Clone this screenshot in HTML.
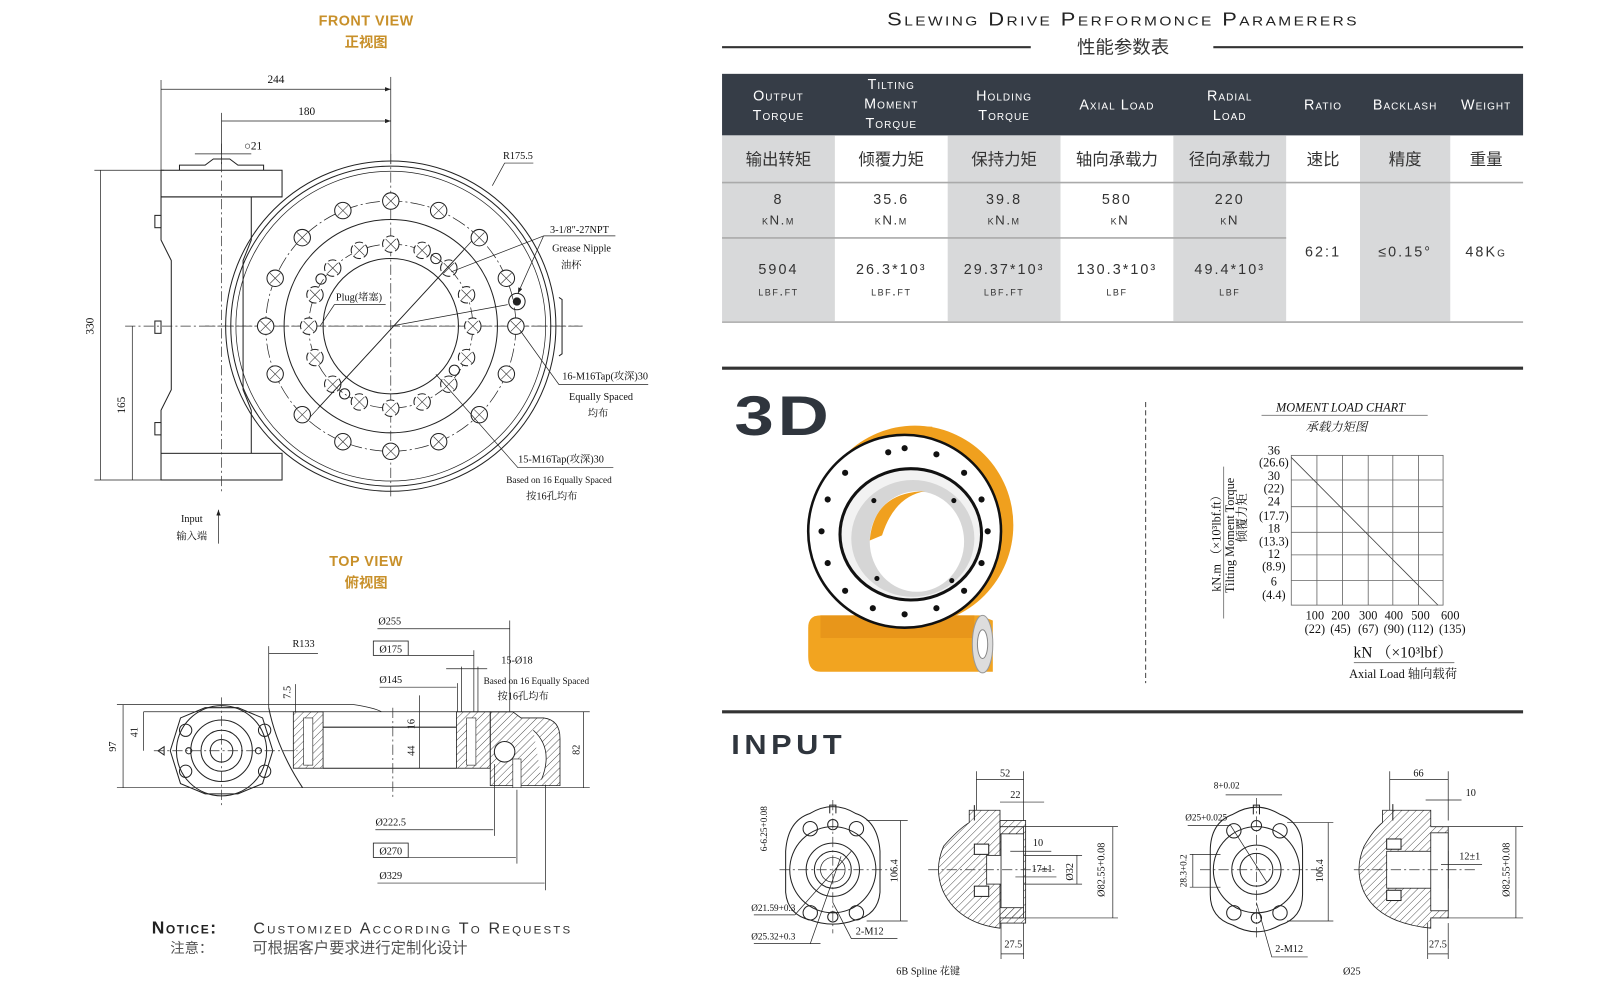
<!DOCTYPE html>
<html><head><meta charset="utf-8">
<style>
html,body{margin:0;padding:0;background:#fff;}
svg{display:block;}
.s{font-family:"Liberation Serif","Noto Serif CJK SC",serif;fill:#111;}
.a{font-family:"Liberation Sans","Noto Sans CJK SC",sans-serif;}
.ln{stroke:#222;stroke-width:1;fill:none;}
.th{stroke:#222;stroke-width:.7;fill:none;}
.cl{stroke:#333;stroke-width:.7;fill:none;stroke-dasharray:10 3 2 3;}
</style></head><body>
<svg width="1600" height="1000" viewBox="0 0 1560 975" preserveAspectRatio="none" xmlns="http://www.w3.org/2000/svg">
<defs>
<pattern id="h" width="5" height="5" patternUnits="userSpaceOnUse" patternTransform="rotate(45)"><line x1="0" y1="0" x2="0" y2="5" stroke="#333" stroke-width="0.8"/></pattern>
<g id="hole"><circle r="8" fill="#fff" stroke="#222" stroke-width="1"/><line x1="-5" y1="-5" x2="5" y2="5" stroke="#333" stroke-width=".6"/><line x1="-5" y1="5" x2="5" y2="-5" stroke="#333" stroke-width=".6"/></g>
<g id="hole2"><circle r="8" fill="#fff" stroke="#222" stroke-width="1" stroke-dasharray="8 3"/><line x1="-5" y1="-5" x2="5" y2="5" stroke="#333" stroke-width=".6"/><line x1="-5" y1="5" x2="5" y2="-5" stroke="#333" stroke-width=".6"/></g>
<marker id="ar" markerWidth="8" markerHeight="6" refX="8" refY="3" orient="auto"><path d="M0,0 L8,3 L0,6 z" fill="#222"/></marker>
</defs>

<!-- ===== FRONT VIEW ===== -->
<text x="357" y="25" text-anchor="middle" class="a" font-size="14" fill="#c8902a" font-weight="bold" letter-spacing="0.5">FRONT VIEW</text>
<text x="357" y="46" text-anchor="middle" class="a" font-size="14" fill="#c8902a" font-weight="bold">正视图</text>

<line class="th" x1="157" y1="78" x2="157" y2="166"/>
<line class="th" x1="381" y1="75" x2="381" y2="160"/>
<line class="th" x1="157" y1="87" x2="381" y2="87" marker-end="url(#ar)"/>
<text x="269" y="81" class="s" font-size="11" text-anchor="middle">244</text>
<line class="th" x1="216" y1="110" x2="216" y2="160"/>
<line class="th" x1="216" y1="118" x2="381" y2="118" marker-end="url(#ar)"/>
<text x="299" y="112" class="s" font-size="11" text-anchor="middle">180</text>
<text x="238" y="146" class="s" font-size="11">○21</text>
<line class="th" x1="190" y1="150" x2="245" y2="150"/>
<line class="th" x1="92" y1="166" x2="160" y2="166"/>
<line class="th" x1="92" y1="468" x2="160" y2="468"/>
<line class="th" x1="98" y1="166" x2="98" y2="468"/>
<text transform="translate(91,318) rotate(-90)" class="s" font-size="11" text-anchor="middle">330</text>
<line class="th" x1="129" y1="318" x2="129" y2="468"/>
<text transform="translate(122,395) rotate(-90)" class="s" font-size="11" text-anchor="middle">165</text>

<path class="ln" d="M175,166 L175,161 L200,161 L208,155 L224,155 L232,161 L257,161 L257,166"/>
<rect class="ln" x="157" y="166" width="118" height="26"/>
<path class="ln" d="M157,192 L157,234 L167,254 L167,380 L157,400 L157,442 M157,192 L275,192 M245,192 L245,234 L237,254 L237,380 L245,400 L245,442"/>
<rect class="ln" x="157" y="442" width="118" height="26"/>
<rect class="ln" x="151" y="210" width="6" height="12"/><rect class="ln" x="151" y="313" width="6" height="12"/><rect class="ln" x="151" y="412" width="6" height="12"/>
<line class="cl" x1="216" y1="140" x2="216" y2="480"/>
<line class="cl" x1="122" y1="318" x2="568" y2="318"/>

<path class="ln" fill="#fff" d="M545,290 L548,292 L548,345 L545,347"/>
<circle cx="381" cy="318" r="161" class="ln" fill="#fff"/>
<circle cx="381" cy="318" r="156" class="ln"/>
<circle cx="381" cy="318" r="151" class="th"/>
<circle cx="381" cy="318" r="122" class="th" stroke-dasharray="14 3 2 3"/>
<circle cx="381" cy="318" r="104" class="ln"/>
<circle cx="381" cy="318" r="80" class="th" stroke-dasharray="14 3 2 3"/>
<circle cx="381" cy="318" r="66" class="ln"/>
<line class="cl" x1="381" y1="150" x2="381" y2="485"/>
<line class="cl" x1="200" y1="318" x2="568" y2="318"/>
<g>
<use href="#hole" x="381" y="196"/><use href="#hole" x="427.7" y="205.3"/><use href="#hole" x="467.3" y="231.7"/><use href="#hole" x="493.7" y="271.3"/><use href="#hole" x="503" y="318"/><use href="#hole" x="493.7" y="364.7"/><use href="#hole" x="467.3" y="404.3"/><use href="#hole" x="427.7" y="430.7"/><use href="#hole" x="381" y="440"/><use href="#hole" x="334.3" y="430.7"/><use href="#hole" x="294.7" y="404.3"/><use href="#hole" x="268.3" y="364.7"/><use href="#hole" x="259" y="318"/><use href="#hole" x="268.3" y="271.3"/><use href="#hole" x="294.7" y="231.7"/><use href="#hole" x="334.3" y="205.3"/>
<use href="#hole2" x="381" y="238"/><use href="#hole2" x="411.6" y="244.1"/><use href="#hole2" x="437.6" y="261.4"/><use href="#hole2" x="454.9" y="287.4"/><use href="#hole2" x="461" y="318"/><use href="#hole2" x="454.9" y="348.6"/><use href="#hole2" x="437.6" y="374.6"/><use href="#hole2" x="411.6" y="391.9"/><use href="#hole2" x="381" y="398"/><use href="#hole2" x="350.4" y="391.9"/><use href="#hole2" x="324.4" y="374.6"/><use href="#hole2" x="307.1" y="348.6"/><use href="#hole2" x="301" y="318"/><use href="#hole2" x="307.1" y="287.4"/><use href="#hole2" x="324.4" y="261.4"/><use href="#hole2" x="350.4" y="244.1"/>
</g>
<circle cx="425" cy="252" r="5" class="ln" fill="#fff"/><circle cx="313" cy="272" r="5" class="ln" fill="#fff"/><circle cx="443" cy="361" r="5" class="ln" fill="#fff"/><circle cx="336" cy="384" r="5" class="ln" fill="#fff"/>
<circle cx="504" cy="294" r="8" class="ln" fill="#fff"/><circle cx="504" cy="294" r="4" fill="#222"/>
<line class="th" x1="310" y1="398" x2="460" y2="235"/>
<line class="th" x1="302" y1="407" x2="452" y2="244"/>
<line class="th" x1="381" y1="318" x2="495" y2="297"/>
<polyline class="th" points="480,181 492,159 520,159"/>
<text x="505" y="155" class="s" font-size="10" text-anchor="middle">R175.5</text>
<text x="565" y="227" class="s" font-size="10" text-anchor="middle">3-1/8"-27NPT</text>
<line class="th" x1="530" y1="230" x2="600" y2="230"/>
<line class="th" x1="530" y1="230" x2="505" y2="286" marker-end="url(#ar)"/>
<line class="th" x1="530" y1="230" x2="440" y2="265"/>
<text x="567" y="245" class="s" font-size="10" text-anchor="middle">Grease Nipple</text>
<text x="557" y="262" class="s" font-size="10" text-anchor="middle">油杯</text>
<text x="350" y="293" class="s" font-size="10" text-anchor="middle">Plug(堵塞)</text>
<polyline class="th" points="376,297 326,297 312,318"/>
<text x="590" y="370" class="s" font-size="10" text-anchor="middle">16-M16Tap(攻深)30</text>
<line class="th" x1="545" y1="375" x2="632" y2="375"/>
<line class="th" x1="545" y1="375" x2="507" y2="322"/>
<text x="586" y="390" class="s" font-size="10" text-anchor="middle">Equally Spaced</text>
<text x="583" y="406" class="s" font-size="10" text-anchor="middle">均布</text>
<text x="547" y="451" class="s" font-size="10" text-anchor="middle">15-M16Tap(攻深)30</text>
<polyline class="th" points="598,456 505,456 425,365"/>
<text x="545" y="471" class="s" font-size="9" text-anchor="middle">Based on 16 Equally Spaced</text>
<text x="538" y="487" class="s" font-size="10" text-anchor="middle">按16孔均布</text>
<text x="187" y="509" class="s" font-size="10" text-anchor="middle">Input</text>
<text x="187" y="526" class="s" font-size="10" text-anchor="middle">输入端</text>
<line class="th" x1="213" y1="530" x2="213" y2="497" marker-end="url(#ar)"/>

<!-- ===== TOP VIEW ===== -->
<text x="357" y="552" text-anchor="middle" class="a" font-size="14" fill="#c8902a" font-weight="bold" letter-spacing="0.5">TOP VIEW</text>
<text x="357" y="573" text-anchor="middle" class="a" font-size="14" fill="#c8902a" font-weight="bold">俯视图</text>

<line class="th" x1="114" y1="687" x2="260" y2="687"/>
<path class="th" d="M260,687 L345,687 Q365,690 372,694"/>
<line class="th" x1="140" y1="694" x2="575" y2="694"/>
<line class="th" x1="114" y1="768" x2="575" y2="768"/>
<line class="th" x1="120" y1="687" x2="120" y2="768"/>
<text transform="translate(113,728) rotate(-90)" class="s" font-size="10" text-anchor="middle">97</text>
<line class="th" x1="140" y1="694" x2="140" y2="732"/>
<text transform="translate(134,714) rotate(-90)" class="s" font-size="10" text-anchor="middle">41</text>
<line class="th" x1="569" y1="694" x2="569" y2="768"/>
<text transform="translate(565,731) rotate(-90)" class="s" font-size="10" text-anchor="middle">82</text>
<path class="ln" fill="#fff" d="M176,700 L200,690 L232,690 L256,700 L266,732 L256,764 L232,774 L200,774 L176,764 L166,732 Z"/>
<circle cx="216" cy="732" r="44" class="ln" fill="#fff"/>
<circle cx="216" cy="732" r="30" class="ln"/>
<circle cx="216" cy="732" r="20" class="ln"/>
<circle cx="216" cy="732" r="11" class="ln"/>
<circle cx="181" cy="712" r="6" class="ln"/><circle cx="181" cy="752" r="6" class="ln"/><circle cx="258" cy="712" r="6" class="ln"/><circle cx="258" cy="752" r="6" class="ln"/>
<circle cx="184" cy="732" r="3" class="ln"/><circle cx="252" cy="732" r="3" class="ln"/>
<path class="ln" d="M154,732 l6,-4 l0,8 z"/>
<line class="cl" x1="216" y1="680" x2="216" y2="785"/>
<line class="cl" x1="150" y1="732" x2="290" y2="732"/>
<path class="ln" d="M262,690 Q270,730 295,768"/>
<rect x="286" y="694" width="29" height="55" fill="url(#h)" stroke="#222" stroke-width=".8"/>
<rect x="296" y="700" width="9" height="46" fill="#fff" stroke="#222" stroke-width=".6"/>
<line class="ln" x1="315" y1="709" x2="445" y2="709"/>
<line class="ln" x1="315" y1="749" x2="445" y2="749"/>
<rect x="445" y="694" width="33" height="55" fill="url(#h)" stroke="#222" stroke-width=".8"/>
<rect x="455" y="700" width="9" height="46" fill="#fff" stroke="#222" stroke-width=".6"/>
<path d="M478,694 L500,694 L508,700 L530,700 Q546,702 546,720 L546,766 L478,766 Z" fill="url(#h)" stroke="#222" stroke-width=".8"/>
<circle cx="492" cy="733" r="10" fill="#fff" stroke="#222"/>
<rect x="500" y="740" width="8" height="28" fill="#fff" stroke="#222" stroke-width=".6"/>
<path d="M520,712 Q540,730 528,760" fill="#fff" stroke="#222" stroke-width=".8"/>
<line class="cl" x1="383" y1="690" x2="383" y2="780"/>
<line class="th" x1="409" y1="678" x2="409" y2="749"/>
<text transform="translate(404,706) rotate(-90)" class="s" font-size="10" text-anchor="middle">16</text>
<text transform="translate(404,732) rotate(-90)" class="s" font-size="10" text-anchor="middle">44</text>
<line class="th" x1="288" y1="667" x2="288" y2="694"/>
<text transform="translate(283,675) rotate(-90)" class="s" font-size="10" text-anchor="middle">7.5</text>
<text x="380" y="609" class="s" font-size="10" text-anchor="middle">Ø255</text>
<line class="th" x1="368" y1="613" x2="497" y2="613"/><line class="th" x1="497" y1="605" x2="497" y2="694"/>
<rect x="364" y="625" width="34" height="14" fill="none" stroke="#222" stroke-width=".8"/>
<text x="381" y="636" class="s" font-size="10" text-anchor="middle">Ø175</text>
<line class="th" x1="398" y1="639" x2="462" y2="639"/><line class="th" x1="462" y1="634" x2="462" y2="694"/>
<text x="504" y="647" class="s" font-size="10" text-anchor="middle">15-Ø18</text>
<line class="th" x1="435" y1="652" x2="475" y2="652"/><line class="th" x1="450" y1="650" x2="450" y2="694"/><line class="th" x1="466" y1="650" x2="466" y2="694"/>
<text x="523" y="667" class="s" font-size="9" text-anchor="middle">Based on 16 Equally Spaced</text>
<text x="510" y="682" class="s" font-size="10" text-anchor="middle">按16孔均布</text>
<text x="381" y="666" class="s" font-size="10" text-anchor="middle">Ø145</text>
<line class="th" x1="370" y1="670" x2="445" y2="670"/><line class="th" x1="446" y1="666" x2="446" y2="694"/>
<text x="296" y="631" class="s" font-size="10" text-anchor="middle">R133</text>
<line class="th" x1="262" y1="637" x2="310" y2="637"/><line class="th" x1="262" y1="630" x2="262" y2="690"/>
<text x="381" y="805" class="s" font-size="10" text-anchor="middle">Ø222.5</text>
<line class="th" x1="366" y1="809" x2="481" y2="809"/><line class="th" x1="482" y1="745" x2="482" y2="815"/>
<rect x="364" y="822" width="34" height="14" fill="none" stroke="#222" stroke-width=".8"/>
<text x="381" y="833" class="s" font-size="10" text-anchor="middle">Ø270</text>
<line class="th" x1="398" y1="836" x2="503" y2="836"/><line class="th" x1="504" y1="770" x2="504" y2="842"/>
<text x="381" y="857" class="s" font-size="10" text-anchor="middle">Ø329</text>
<line class="th" x1="368" y1="861" x2="531" y2="861"/><line class="th" x1="532" y1="765" x2="532" y2="868"/>

<!-- notice -->
<text x="148" y="910" class="a" font-size="17" font-weight="bold" fill="#222" style="font-variant:small-caps" letter-spacing="1.5">Notice:</text>
<text x="247" y="910" class="a" font-size="15" fill="#333" style="font-variant:small-caps" letter-spacing="2" textLength="311" lengthAdjust="spacingAndGlyphs">Customized According To Requests</text>
<text x="166" y="929" class="a" font-size="14" fill="#555">注意：</text>
<text x="246" y="929" class="a" font-size="15" fill="#555">可根据客户要求进行定制化设计</text>

<!-- ===== TABLE ===== -->
<text x="1095" y="25" text-anchor="middle" class="a" font-size="18" fill="#222" style="font-variant:small-caps" letter-spacing="2" textLength="460" lengthAdjust="spacingAndGlyphs">Slewing Drive Performonce Paramerers</text>
<text x="1095" y="52" text-anchor="middle" class="a" font-size="18" fill="#333">性能参数表</text>
<line x1="704" y1="46" x2="1005" y2="46" stroke="#333" stroke-width="2"/>
<line x1="1183" y1="46" x2="1485" y2="46" stroke="#333" stroke-width="2"/>

<rect x="704" y="72" width="781" height="60" fill="#363d47"/>
<rect x="704" y="132" width="110" height="181" fill="#d8d9da"/>
<rect x="924" y="132" width="110" height="181" fill="#d8d9da"/>
<rect x="1144" y="132" width="110" height="181" fill="#d8d9da"/>
<rect x="1326" y="132" width="88" height="181" fill="#d8d9da"/>
<line x1="704" y1="178" x2="1485" y2="178" stroke="#aaa" stroke-width="1.5"/>
<line x1="704" y1="232" x2="1254" y2="232" stroke="#aaa" stroke-width="1.5"/>
<line x1="704" y1="314" x2="1485" y2="314" stroke="#aaa" stroke-width="1.5"/>
<g class="a" font-size="14" fill="#fff" text-anchor="middle" style="font-variant:small-caps" letter-spacing="1">
<text x="759" y="98">Output</text><text x="759" y="117">Torque</text>
<text x="869" y="87">Tilting</text><text x="869" y="106">Moment</text><text x="869" y="125">Torque</text>
<text x="979" y="98">Holding</text><text x="979" y="117">Torque</text>
<text x="1089" y="107">Axial Load</text>
<text x="1199" y="98">Radial</text><text x="1199" y="117">Load</text>
<text x="1290" y="107">Ratio</text><text x="1370" y="107">Backlash</text><text x="1449" y="107">Weight</text>
</g>
<g class="a" font-size="16" fill="#333" text-anchor="middle">
<text x="759" y="161">输出转矩</text><text x="869" y="161">倾覆力矩</text><text x="979" y="161">保持力矩</text><text x="1089" y="161">轴向承载力</text><text x="1199" y="161">径向承载力</text><text x="1290" y="161">速比</text><text x="1370" y="161">精度</text><text x="1449" y="161">重量</text>
</g>
<g class="a" font-size="14" fill="#333" text-anchor="middle" letter-spacing="2">
<text x="759" y="199">8</text><text x="869" y="199">35.6</text><text x="979" y="199">39.8</text><text x="1089" y="199">580</text><text x="1199" y="199">220</text>
<text x="759" y="267">5904</text><text x="869" y="267">26.3*10³</text><text x="979" y="267">29.37*10³</text><text x="1089" y="267">130.3*10³</text><text x="1199" y="267">49.4*10³</text>
<text x="1290" y="250">62:1</text><text x="1370" y="250">≤0.15°</text><text x="1449" y="250" style="font-variant:small-caps">48Kg</text>
</g>
<g class="a" font-size="13" fill="#333" text-anchor="middle" letter-spacing="1.5" style="font-variant:small-caps">
<text x="759" y="219">kN.m</text><text x="869" y="219">kN.m</text><text x="979" y="219">kN.m</text><text x="1092" y="219">kN</text><text x="1199" y="219">kN</text>
<text x="759" y="288">lbf.ft</text><text x="869" y="288">lbf.ft</text><text x="979" y="288">lbf.ft</text><text x="1089" y="288">lbf</text><text x="1199" y="288">lbf</text>
</g>

<line x1="704" y1="359" x2="1485" y2="359" stroke="#333" stroke-width="3"/>

<!-- 3D -->
<text x="716" y="424" class="a" font-size="54" font-weight="bold" fill="#2f353d" letter-spacing="3" textLength="96" lengthAdjust="spacingAndGlyphs">3D</text>
<ellipse cx="892" cy="512" rx="96" ry="97" fill="#f0a01e"/>
<rect x="893" y="416" width="16" height="8" fill="#f0a01e"/>
<path d="M800,600 L955,600 L968,605 L968,655 L800,655 Q788,655 788,640 L788,612 Q788,600 800,600 Z" fill="#f2a420"/>
<rect x="800" y="600" width="150" height="22" fill="#e8961a"/>
<ellipse cx="958" cy="628" rx="10" ry="28" fill="#ddd" stroke="#999"/>
<ellipse cx="958" cy="628" rx="5" ry="14" fill="#fff" stroke="#888"/>
<ellipse cx="882" cy="518" rx="94" ry="94" fill="#fff" stroke="#111" stroke-width="2.5"/>
<ellipse cx="888" cy="521" rx="69" ry="64" fill="#f2f2f2" stroke="#111" stroke-width="3"/>
<ellipse cx="890" cy="525" rx="60" ry="57" fill="#d6d6d6"/>
<ellipse cx="894" cy="528" rx="46" ry="49" fill="#fff"/>
<path d="M848,527 Q852,480 902,479 Q872,484 860,522 Z" fill="#f0a01e"/>
<g fill="#111">
<circle cx="882" cy="437" r="3"/><circle cx="913" cy="443" r="3"/><circle cx="940" cy="461" r="3"/><circle cx="957" cy="487" r="3"/><circle cx="963" cy="518" r="3"/><circle cx="957" cy="549" r="3"/><circle cx="940" cy="576" r="3"/><circle cx="913" cy="593" r="3"/><circle cx="882" cy="599" r="3"/><circle cx="851" cy="593" r="3"/><circle cx="824" cy="576" r="3"/><circle cx="807" cy="549" r="3"/><circle cx="801" cy="518" r="3"/><circle cx="807" cy="487" r="3"/><circle cx="824" cy="461" r="3"/><circle cx="866" cy="441" r="3"/>
<circle cx="852" cy="488" r="2.5"/><circle cx="930" cy="488" r="2.5"/><circle cx="855" cy="564" r="2.5"/><circle cx="928" cy="566" r="2.5"/>
</g>
<line x1="1117" y1="392" x2="1117" y2="666" stroke="#444" stroke-width="1" stroke-dasharray="5 3"/>

<!-- chart -->
<text x="1307" y="401" class="s" font-size="12" font-style="italic" text-anchor="middle">MOMENT LOAD CHART</text>
<line x1="1230" y1="405" x2="1392" y2="405" stroke="#888" stroke-width="1"/>
<text x="1303" y="420" class="s" font-size="12" font-style="italic" text-anchor="middle" fill="#444">承载力矩图</text>
<g stroke="#666" stroke-width=".8" fill="none">
<rect x="1259" y="444" width="148" height="146"/>
<line x1="1284" y1="444" x2="1284" y2="590"/><line x1="1309" y1="444" x2="1309" y2="590"/><line x1="1334" y1="444" x2="1334" y2="590"/><line x1="1358" y1="444" x2="1358" y2="590"/><line x1="1383" y1="444" x2="1383" y2="590"/>
<line x1="1259" y1="468" x2="1407" y2="468"/><line x1="1259" y1="494" x2="1407" y2="494"/><line x1="1259" y1="519" x2="1407" y2="519"/><line x1="1259" y1="541" x2="1407" y2="541"/><line x1="1259" y1="566" x2="1407" y2="566"/>
<line x1="1259" y1="446" x2="1402" y2="590" stroke="#444"/>
</g>
<g class="s" font-size="12" text-anchor="middle">
<text x="1242" y="443">36</text><text x="1242" y="455">(26.6)</text><text x="1242" y="468">30</text><text x="1242" y="480">(22)</text><text x="1242" y="493">24</text><text x="1242" y="507">(17.7)</text><text x="1242" y="519">18</text><text x="1242" y="532">(13.3)</text><text x="1242" y="544">12</text><text x="1242" y="556">(8.9)</text><text x="1242" y="571">6</text><text x="1242" y="584">(4.4)</text>
<text x="1282" y="604">100</text><text x="1307" y="604">200</text><text x="1334" y="604">300</text><text x="1359" y="604">400</text><text x="1385" y="604">500</text><text x="1414" y="604">600</text>
<text x="1282" y="617">(22)</text><text x="1307" y="617">(45)</text><text x="1334" y="617">(67)</text><text x="1359" y="617">(90)</text><text x="1385" y="617">(112)</text><text x="1416" y="617">(135)</text>
<text x="1368" y="641" font-size="15">kN （×10³lbf）</text>
<text x="1368" y="661" font-size="12">Axial Load  轴向载荷</text>
</g>
<line x1="1320" y1="646" x2="1418" y2="646" stroke="#888"/>
<text transform="translate(1190,527) rotate(-90)" class="s" font-size="12" text-anchor="middle">kN.m （×10³lbf.ft）</text>
<text transform="translate(1203,522) rotate(-90)" class="s" font-size="12" text-anchor="middle">Tilting Moment Torque</text>
<text transform="translate(1215,505) rotate(-90)" class="s" font-size="12" text-anchor="middle">倾覆力矩</text>
<line x1="1193" y1="455" x2="1193" y2="603" stroke="#888"/>

<line x1="704" y1="694" x2="1485" y2="694" stroke="#333" stroke-width="3"/>

<!-- INPUT -->
<text x="713" y="735" class="a" font-size="27" font-weight="bold" fill="#2f353d" letter-spacing="4" textLength="112" lengthAdjust="spacingAndGlyphs">INPUT</text>

<!-- drawing 1 -->
<path class="ln" d="M790,793 Q812,780 834,793 Q856,800 858,830 L858,870 Q856,892 834,897 Q812,905 790,897 Q768,892 766,870 L766,830 Q768,800 790,793 Z"/>
<circle cx="812" cy="848" r="42" class="ln"/><circle cx="812" cy="848" r="26" class="ln"/><circle cx="812" cy="848" r="18" class="ln"/><circle cx="812" cy="848" r="12" class="th"/>
<circle cx="790" cy="808" r="7" class="ln"/><circle cx="835" cy="808" r="7" class="ln"/><circle cx="790" cy="890" r="7" class="ln"/><circle cx="835" cy="890" r="7" class="ln"/>
<circle cx="812" cy="804" r="5" class="ln"/><circle cx="812" cy="894" r="5" class="ln"/>
<path class="ln" d="M809,793 L809,785 L815,785 L815,793"/>
<line class="cl" x1="812" y1="780" x2="812" y2="910"/><line class="cl" x1="760" y1="848" x2="870" y2="848"/>
<line class="th" x1="845" y1="800" x2="885" y2="800"/><line class="th" x1="845" y1="898" x2="885" y2="898"/><line class="th" x1="878" y1="800" x2="878" y2="898"/>
<text transform="translate(875,849) rotate(-90)" class="s" font-size="10" text-anchor="middle">106.4</text>
<text transform="translate(748,808) rotate(-90)" class="s" font-size="9" text-anchor="middle">6-6.25+0.08</text>
<text x="754" y="888" class="s" font-size="9" text-anchor="middle">Ø21.59+0.3</text>
<text x="754" y="916" class="s" font-size="9" text-anchor="middle">Ø25.32+0.3</text>
<line class="th" x1="735" y1="892" x2="775" y2="892"/><line class="th" x1="735" y1="920" x2="800" y2="920"/>
<line class="th" x1="775" y1="892" x2="830" y2="830"/><line class="th" x1="790" y1="920" x2="820" y2="835"/>
<text x="848" y="911" class="s" font-size="10" text-anchor="middle">2-M12</text>
<polyline class="th" points="875,915 830,915 812,880"/>
<text x="905" y="950" class="s" font-size="10" text-anchor="middle">6B Spline 花键</text>

<!-- drawing 2 -->
<path d="M945,802 L945,790 L975,790 L975,806 L998,806 L998,895 L975,895 L975,905 Q935,900 920,870 Q910,848 920,825 Q935,808 945,802 Z" fill="url(#h)" stroke="#222" stroke-width=".8"/>
<rect x="975" y="800" width="25" height="100" fill="url(#h)" stroke="#222" stroke-width=".8"/>
<rect x="962" y="834" width="36" height="28" fill="#fff" stroke="#222" stroke-width=".8"/>
<rect x="976" y="813" width="22" height="72" fill="#fff" stroke="#222" stroke-width=".8"/>
<rect x="950" y="823" width="14" height="10" fill="#fff" stroke="#222"/><rect x="950" y="864" width="14" height="10" fill="#fff" stroke="#222"/>
<path class="ln" d="M950,800 L950,785"/>
<line class="cl" x1="905" y1="848" x2="1030" y2="848"/>
<line class="th" x1="952" y1="752" x2="952" y2="790"/><line class="th" x1="998" y1="752" x2="998" y2="800"/><line class="th" x1="952" y1="760" x2="998" y2="760"/>
<text x="980" y="757" class="s" font-size="10" text-anchor="middle">52</text>
<line class="th" x1="975" y1="782" x2="1018" y2="782"/><text x="990" y="778" class="s" font-size="10" text-anchor="middle">22</text>
<text x="1012" y="825" class="s" font-size="10" text-anchor="middle">10</text><line class="th" x1="985" y1="830" x2="1025" y2="830"/>
<text x="1016" y="850" class="s" font-size="10" text-anchor="middle">17±1</text><line class="th" x1="990" y1="855" x2="1030" y2="855"/>
<line class="th" x1="998" y1="834" x2="1055" y2="834"/><line class="th" x1="998" y1="862" x2="1055" y2="862"/><line class="th" x1="1050" y1="834" x2="1050" y2="862"/>
<text transform="translate(1046,850) rotate(-90)" class="s" font-size="10" text-anchor="middle">Ø32</text>
<line class="th" x1="998" y1="806" x2="1090" y2="806"/><line class="th" x1="998" y1="895" x2="1090" y2="895"/><line class="th" x1="1085" y1="806" x2="1085" y2="895"/>
<text transform="translate(1077,848) rotate(-90)" class="s" font-size="10" text-anchor="middle">Ø82.55+0.08</text>
<line class="th" x1="976" y1="900" x2="976" y2="935"/><line class="th" x1="998" y1="900" x2="998" y2="935"/><line class="th" x1="976" y1="930" x2="998" y2="930"/>
<text x="988" y="924" class="s" font-size="10" text-anchor="middle">27.5</text>

<!-- drawing 3 -->
<path class="ln" d="M1202,794 Q1225,780 1248,794 Q1270,802 1270,830 L1270,872 Q1270,895 1248,902 Q1225,915 1202,902 Q1180,895 1180,872 L1180,830 Q1180,802 1202,794 Z"/>
<circle cx="1225" cy="848" r="42" class="ln"/><circle cx="1225" cy="848" r="24" class="ln"/><circle cx="1225" cy="848" r="16" class="ln"/>
<circle cx="1203" cy="810" r="7" class="ln"/><circle cx="1248" cy="810" r="7" class="ln"/><circle cx="1203" cy="890" r="7" class="ln"/><circle cx="1248" cy="890" r="7" class="ln"/>
<circle cx="1225" cy="805" r="5" class="ln"/><circle cx="1225" cy="895" r="5" class="ln"/>
<path class="ln" d="M1222,794 L1222,785 L1228,785 L1228,794"/>
<line class="cl" x1="1225" y1="778" x2="1225" y2="915"/><line class="cl" x1="1170" y1="848" x2="1285" y2="848"/>
<line class="th" x1="1255" y1="802" x2="1300" y2="802"/><line class="th" x1="1255" y1="898" x2="1300" y2="898"/><line class="th" x1="1295" y1="802" x2="1295" y2="898"/>
<text transform="translate(1290,849) rotate(-90)" class="s" font-size="10" text-anchor="middle">106.4</text>
<line class="th" x1="1160" y1="833" x2="1190" y2="833"/><line class="th" x1="1160" y1="865" x2="1190" y2="865"/><line class="th" x1="1163" y1="833" x2="1163" y2="865"/>
<text transform="translate(1157,849) rotate(-90)" class="s" font-size="9" text-anchor="middle">28.3+0.2</text>
<text x="1196" y="769" class="s" font-size="9" text-anchor="middle">8+0.02</text><line class="th" x1="1195" y1="775" x2="1250" y2="775"/>
<text x="1176" y="800" class="s" font-size="9" text-anchor="middle">Ø25+0.025</text><line class="th" x1="1158" y1="805" x2="1200" y2="805"/>
<line class="th" x1="1200" y1="805" x2="1235" y2="860"/>
<text x="1257" y="928" class="s" font-size="10" text-anchor="middle">2-M12</text>
<polyline class="th" points="1275,933 1240,933 1225,880"/>
<text x="1318" y="950" class="s" font-size="10" text-anchor="middle">Ø25</text>

<!-- drawing 4 -->
<path d="M1348,802 L1348,790 L1395,790 L1395,806 L1412,806 L1412,895 L1395,895 L1395,905 Q1345,900 1330,870 Q1320,848 1330,825 Q1340,808 1348,802 Z" fill="url(#h)" stroke="#222" stroke-width=".8"/>
<rect x="1352" y="830" width="60" height="36" fill="#fff" stroke="#222" stroke-width=".8"/>
<rect x="1395" y="812" width="17" height="76" fill="#fff" stroke="#222" stroke-width=".8"/>
<rect x="1352" y="818" width="14" height="10" fill="#fff" stroke="#222"/><rect x="1352" y="868" width="14" height="10" fill="#fff" stroke="#222"/>
<path class="ln" d="M1358,800 L1358,784"/>
<line class="cl" x1="1320" y1="848" x2="1440" y2="848"/>
<line class="th" x1="1355" y1="752" x2="1355" y2="790"/><line class="th" x1="1412" y1="752" x2="1412" y2="800"/><line class="th" x1="1355" y1="760" x2="1412" y2="760"/>
<text x="1383" y="757" class="s" font-size="10" text-anchor="middle">66</text>
<line class="th" x1="1390" y1="780" x2="1425" y2="780"/><text x="1434" y="776" class="s" font-size="10" text-anchor="middle">10</text>
<text x="1433" y="838" class="s" font-size="10" text-anchor="middle">12±1</text><line class="th" x1="1405" y1="843" x2="1445" y2="843"/>
<line class="th" x1="1412" y1="806" x2="1485" y2="806"/><line class="th" x1="1412" y1="895" x2="1485" y2="895"/><line class="th" x1="1478" y1="806" x2="1478" y2="895"/>
<text transform="translate(1472,848) rotate(-90)" class="s" font-size="10" text-anchor="middle">Ø82.55+0.08</text>
<line class="th" x1="1392" y1="900" x2="1392" y2="935"/><line class="th" x1="1412" y1="900" x2="1412" y2="935"/><line class="th" x1="1392" y1="930" x2="1412" y2="930"/>
<text x="1402" y="924" class="s" font-size="10" text-anchor="middle">27.5</text>
</svg>
</body></html>
